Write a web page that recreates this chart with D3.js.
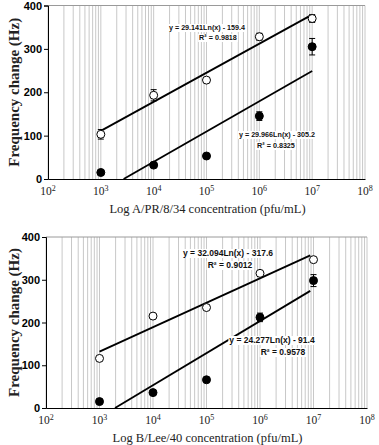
<!DOCTYPE html>
<html>
<head>
<meta charset="utf-8">
<script src="https://cdn.jsdelivr.net/npm/d3@7"></script>
<style>
  body { margin: 0; background: #fff; }
  svg { display: block; }
</style>
</head>
<body>
<svg id="chart" width="379" height="445"></svg>
<script>
// concentrations (pfu/mL) shared by both panels
const concentrations = [1e3, 1e4, 1e5, 1e6, 1e7];
const yTicks = [0, 100, 200, 300, 400];
const xDecades = [2, 3, 4, 5, 6, 7, 8];

// panel A: A/PR/8/34
const aprOpen = [103, 193, 228, 328, 370];
const aprOpenErr = [11, 13, 6, 8, 9];
const aprFilled = [15, 32, 53, 145, 305];
const aprFilledErr = [3, 3, 4, 10, 19];
const aprOpenFit = [[1e3, 111], [1e7, 379]];
const aprFilledFit = [[2.7e3, 0], [1e7, 249]];
const aprLabels = [
  ["y = 29.141Ln(x) - 159.4", "R\u00b2 = 0.9818"],
  ["y = 29.966Ln(x) - 305.2", "R\u00b2 = 0.8325"]
];

// panel B: B/Lee/40
const leeOpen = [116, 215, 235, 315, 347];
const leeOpenErr = [3, 3, 3, 4, 3];
const leeFilled = [15, 36, 66, 212, 298];
const leeFilledErr = [3, 5, 3, 10, 14];
const leeOpenFit = [[1e3, 132], [8.7e6, 357]];
const leeFilledFit = [[1.95e3, 0], [8.7e6, 274]];
const leeLabels = [
  ["y = 32.094Ln(x) - 317.6", "R\u00b2 = 0.9012"],
  ["y = 24.277Ln(x) - 91.4", "R\u00b2 = 0.9578"]
];

const svg = d3.select("#chart");

function drawPanel(p) {
  const g = svg.append("g");
  const x = d3.scaleLog().domain([1e2, 1e8]).range([p.left, p.right]);
  const y = d3.scaleLinear().domain([0, 400]).range([p.bottom, p.top]);

  // vertical log grid
  const grid = [];
  xDecades.slice(0, -1).forEach(d => {
    for (let k = 1; k < 10; k++) grid.push(k * Math.pow(10, d));
  });
  grid.push(1e8);
  g.selectAll(".grid").data(grid).join("line")
    .attr("x1", d => x(d)).attr("x2", d => x(d))
    .attr("y1", p.top).attr("y2", p.bottom)
    .attr("stroke", "#c8c8c8").attr("stroke-width", 1);
  g.append("line")
    .attr("x1", p.left).attr("x2", p.right)
    .attr("y1", p.top).attr("y2", p.top)
    .attr("stroke", "#9a9a9a");

  // y axis
  const yAxis = g.append("g")
    .attr("transform", `translate(${p.left},0)`)
    .call(d3.axisLeft(y).tickValues(yTicks).tickSize(4).tickPadding(2));
  yAxis.select(".domain").attr("stroke", "#000");
  yAxis.selectAll("text")
    .style("font", "bold 11px 'Liberation Sans', Arial, sans-serif")
    .attr("fill", "#000");

  // x axis
  const xAxis = g.append("g")
    .attr("transform", `translate(0,${p.bottom})`)
    .call(d3.axisBottom(x).tickValues([]).tickSizeOuter(0));
  xAxis.select(".domain").attr("stroke", "#000");

  const xl = g.selectAll(".xl").data(xDecades).join("text")
    .attr("x", d => x(Math.pow(10, d)))
    .attr("y", p.bottom + 16)
    .attr("text-anchor", "middle")
    .style("font", "11.5px 'Liberation Serif', 'Times New Roman', serif")
    .attr("fill", "#222");
  xl.append("tspan").text("10");
  xl.append("tspan").attr("dy", -4).style("font-size", "8px").text(d => d);

  g.append("text")
    .attr("x", (p.left + p.right) / 2 + 1)
    .attr("y", p.bottom + 34)
    .attr("text-anchor", "middle")
    .style("font", "12.5px 'Liberation Serif', 'Times New Roman', serif")
    .attr("fill", "#222")
    .text(p.xTitle);

  g.append("text")
    .attr("transform", `translate(19,${(p.top + p.bottom) / 2}) rotate(-90)`)
    .attr("text-anchor", "middle")
    .style("font", "bold 15px 'Liberation Serif', 'Times New Roman', serif")
    .attr("fill", "#222")
    .text("Frequency change (Hz)");

  // fit lines
  [p.openFit, p.filledFit].forEach(f => {
    g.append("line")
      .attr("x1", x(f[0][0])).attr("y1", y(f[0][1]))
      .attr("x2", x(f[1][0])).attr("y2", y(f[1][1]))
      .attr("stroke", "#000").attr("stroke-width", 1.8);
  });

  // equation labels
  p.labels.forEach((lab, i) => {
    const pos = p.labelPos[i];
    lab.forEach((t, j) => {
      const tx = g.append("text")
        .attr("x", pos[j][0]).attr("y", pos[j][1])
        .attr("text-anchor", "middle")
        .style("font", `bold ${p.labelSize}px 'Liberation Sans', Arial, sans-serif`)
        .attr("fill", "#111")
        .text(t);
      const b = tx.node().getBBox();
      g.insert("rect", () => tx.node())
        .attr("x", b.x - 1).attr("y", b.y + 1)
        .attr("width", b.width + 2).attr("height", b.height - 1)
        .attr("fill", "#fff");
    });
  });

  // points with error bars
  const series = [
    { vals: p.open, err: p.openErr, fill: "#fff" },
    { vals: p.filled, err: p.filledErr, fill: "#000" }
  ];
  series.forEach(s => {
    const pts = concentrations.map((c, i) => ({ c, v: s.vals[i], e: s.err[i] }));
    const eb = g.append("g");
    eb.selectAll(".v").data(pts).join("line")
      .attr("x1", d => x(d.c)).attr("x2", d => x(d.c))
      .attr("y1", d => y(d.v - d.e)).attr("y2", d => y(d.v + d.e))
      .attr("stroke", "#000");
    eb.selectAll(".ct").data(pts).join("line")
      .attr("x1", d => x(d.c) - 3).attr("x2", d => x(d.c) + 3)
      .attr("y1", d => y(d.v + d.e)).attr("y2", d => y(d.v + d.e))
      .attr("stroke", "#000");
    eb.selectAll(".cb").data(pts).join("line")
      .attr("x1", d => x(d.c) - 3).attr("x2", d => x(d.c) + 3)
      .attr("y1", d => y(d.v - d.e)).attr("y2", d => y(d.v - d.e))
      .attr("stroke", "#000");
    g.append("g").selectAll("circle").data(pts).join("circle")
      .attr("cx", d => x(d.c)).attr("cy", d => y(d.v))
      .attr("r", 4)
      .attr("fill", s.fill)
      .attr("stroke", "#000").attr("stroke-width", 1);
  });
}

drawPanel({
  left: 48, right: 365, top: 5.5, bottom: 179,
  xTitle: "Log A/PR/8/34 concentration (pfu/mL)",
  open: aprOpen, openErr: aprOpenErr, filled: aprFilled, filledErr: aprFilledErr,
  openFit: aprOpenFit, filledFit: aprFilledFit,
  labels: aprLabels, labelSize: 7.2,
  labelPos: [[[207, 30], [218, 40]], [[277, 137], [276, 148]]]
});

drawPanel({
  left: 46, right: 367, top: 237, bottom: 408,
  xTitle: "Log B/Lee/40 concentration (pfu/mL)",
  open: leeOpen, openErr: leeOpenErr, filled: leeFilled, filledErr: leeFilledErr,
  openFit: leeOpenFit, filledFit: leeFilledFit,
  labels: leeLabels, labelSize: 8.5,
  labelPos: [[[228, 256], [230, 268]], [[272, 343], [283, 355]]]
});
</script>
</body>
</html>
